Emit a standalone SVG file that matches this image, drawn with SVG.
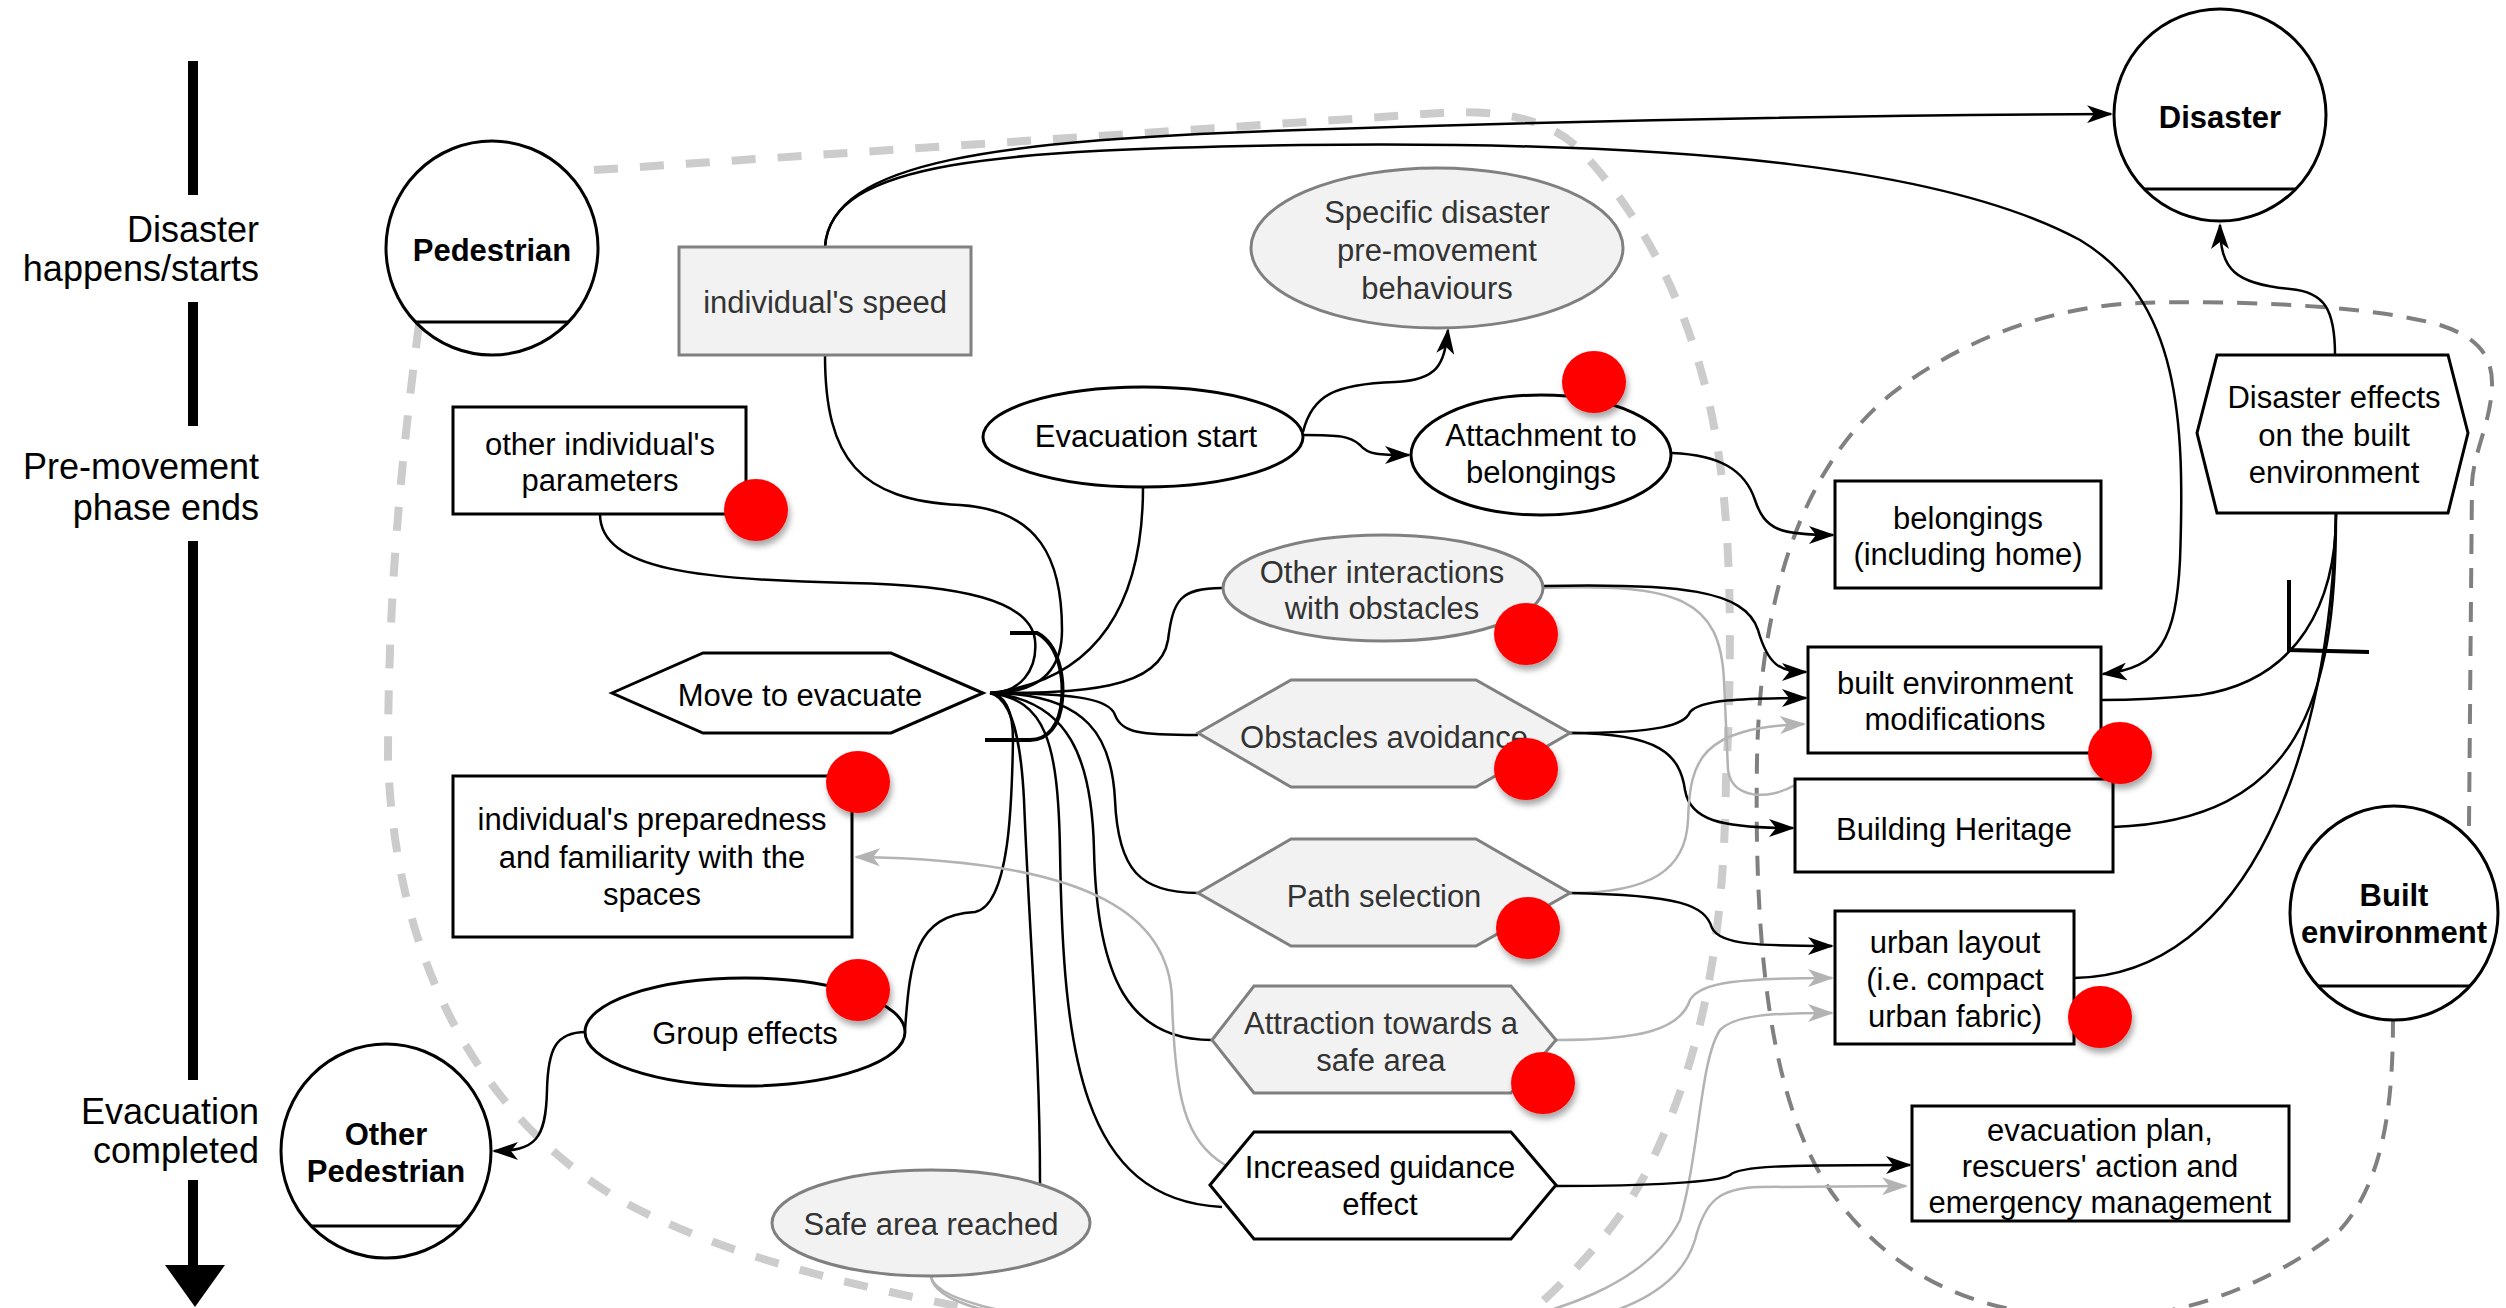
<svg xmlns="http://www.w3.org/2000/svg" width="2506" height="1308" viewBox="0 0 2506 1308">
<defs>
<marker id="ab" markerUnits="userSpaceOnUse" markerWidth="26" markerHeight="18" viewBox="0 0 26 18" refX="24" refY="9" orient="auto"><path d="M0,0 L26,9 L0,18 L7,9 z" fill="#000"/></marker>
<marker id="ag" markerUnits="userSpaceOnUse" markerWidth="26" markerHeight="18" viewBox="0 0 26 18" refX="24" refY="9" orient="auto"><path d="M0,0 L26,9 L0,18 L7,9 z" fill="#b3b3b3"/></marker>
<filter id="sh" x="-40%" y="-40%" width="180%" height="180%"><feDropShadow dx="2" dy="5" stdDeviation="3" flood-color="#000" flood-opacity="0.35"/></filter>
</defs>
<style>
text{font-family:"Liberation Sans",Arial,Helvetica,sans-serif;font-size:31px;fill:#000;text-anchor:middle}
.b{font-weight:bold}
.g{fill:#333}
.lbl{font-size:36px;text-anchor:end}
.n{fill:#fff;stroke:#000;stroke-width:3}
.ng{fill:#f2f2f2;stroke:#808080;stroke-width:3}
.c{fill:none;stroke:#000;stroke-width:2.5}
.cg{fill:none;stroke:#b3b3b3;stroke-width:2.5}
.dot{fill:#ff0000;filter:url(#sh)}
.bar{stroke:#000;stroke-width:10}
</style>
<rect width="2506" height="1308" fill="#fff"/>

<g id="timeline">
<line class="bar" x1="193" y1="61" x2="193" y2="195"/>
<line class="bar" x1="193" y1="302" x2="193" y2="426"/>
<line class="bar" x1="193" y1="541" x2="193" y2="1080"/>
<line class="bar" x1="193" y1="1180" x2="193" y2="1268"/>
<polygon points="165,1265 225,1265 195,1307" fill="#000"/>
<text class="lbl" x="259" y="242">Disaster</text>
<text class="lbl" x="259" y="281">happens/starts</text>
<text class="lbl" x="259" y="479">Pre-movement</text>
<text class="lbl" x="259" y="520">phase ends</text>
<text class="lbl" x="259" y="1124">Evacuation</text>
<text class="lbl" x="259" y="1163">completed</text>
</g>

<g id="regions">
<path d="M594,170 L1440,113 C1490,110 1540,115 1575,145 C1650,220 1700,330 1718,450 C1735,560 1730,700 1726,780 C1724,950 1700,1060 1650,1165 C1620,1225 1580,1270 1500,1340" fill="none" stroke="#cccccc" stroke-width="8" stroke-dasharray="24,22"/>
<path d="M419,324 C400,470 388,600 388,760 C395,950 470,1110 620,1200 C740,1265 880,1290 1000,1315" fill="none" stroke="#cccccc" stroke-width="8" stroke-dasharray="24,22"/>
<path d="M2469,826 L2472,483 C2474,450 2492,420 2492,383 C2492,350 2470,335 2440,325 C2370,305 2230,300 2140,303 C2050,306 1960,340 1890,395 C1800,470 1760,600 1757,760 C1754,950 1770,1100 1830,1190 C1900,1290 2000,1318 2100,1318 C2200,1318 2290,1270 2340,1230 C2385,1180 2393,1100 2393,1019" fill="none" stroke="#808080" stroke-width="4" stroke-dasharray="20,14"/>
</g>

<g id="connectors">
<path class="c" d="M825,247 C830,160 1000,140 1300,130 C1600,120 1900,115 2111,114" marker-end="url(#ab)"/>
<path class="c" d="M825,247 C830,160 1000,150 1300,145 C1700,140 1950,170 2080,240 C2180,300 2185,420 2180,560 C2176,640 2160,668 2103,674" marker-end="url(#ab)"/>
<path class="c" d="M825,355 C825,460 860,500 960,505 C1040,510 1062,560 1062,630 C1062,670 1040,693 990,693"/>
<path class="c" d="M600,514 C600,570 700,580 850,583 C960,585 1030,600 1035,640 C1038,670 1020,693 990,693"/>
<path class="c" d="M1143,487 C1143,600 1100,680 990,693"/>
<path class="c" d="M1303,432 C1312,395 1335,384 1395,382 C1438,380 1444,365 1448,330" marker-end="url(#ab)"/>
<path class="c" d="M1303,435 C1340,435 1350,436 1360,445 C1368,455 1380,455 1409,455" marker-end="url(#ab)"/>
<path class="c" d="M1672,453 C1720,455 1745,470 1755,500 C1765,530 1780,535 1833,535" marker-end="url(#ab)"/>
<path class="c" d="M2335,355 C2335,310 2325,292 2290,289 C2235,284 2220,270 2220,225" marker-end="url(#ab)"/>
<path class="c" d="M2336,514 C2336,600 2300,680 2200,695 C2150,700 2120,700 2101,700"/>
<path class="c" d="M2336,514 C2336,700 2300,820 2113,827"/>
<path class="c" d="M2336,514 C2330,750 2250,975 2074,978"/>
<path d="M2289,580 L2289,650 L2369,652" fill="none" stroke="#000" stroke-width="4"/>
<path class="c" d="M990,693 C1080,693 1160,690 1168,640 C1173,600 1180,588 1222,588"/>
<path class="c" d="M990,693 C1080,693 1110,700 1115,715 C1122,733 1140,735 1198,735"/>
<path class="c" d="M990,693 C1090,693 1112,740 1115,800 C1118,870 1140,893 1198,893"/>
<path class="c" d="M990,693 C1070,700 1092,760 1094,850 C1097,980 1130,1040 1212,1040"/>
<path class="c" d="M990,693 C1045,700 1058,740 1060,850 C1063,1050 1080,1200 1222,1207"/>
<path class="c" d="M990,693 C1012,698 1021,740 1024,800 C1030,950 1040,1050 1040,1184"/>
<path class="c" d="M905,1030 C910,960 915,915 975,912 C1010,905 1012,800 1013,740 C1013,710 1005,695 990,693"/>
<path class="c" d="M586,1032 C555,1032 548,1050 547,1090 C546,1140 535,1151 494,1151" marker-end="url(#ab)"/>
<path d="M1010,633 L1037,633 C1060,645 1064,680 1062,700 C1060,725 1048,740 1030,740 L985,740" fill="none" stroke="#000" stroke-width="4"/>
<path class="cg" d="M1225,1165 C1185,1140 1175,1100 1172,1000 C1170,920 1100,860 856,857" marker-end="url(#ag)"/>
<path class="cg" d="M1543,588 C1680,583 1720,600 1724,680 L1728,770 C1732,800 1770,800 1795,785"/>
<path class="c" d="M1543,586 C1680,583 1745,590 1758,630 C1768,665 1780,672 1806,672" marker-end="url(#ab)"/>
<path class="c" d="M1570,733 C1660,733 1685,725 1690,712 C1700,700 1740,698 1806,698" marker-end="url(#ab)"/>
<path class="c" d="M1570,733 C1660,733 1680,755 1685,790 C1690,820 1720,828 1793,828" marker-end="url(#ab)"/>
<path class="cg" d="M1570,893 C1650,893 1686,870 1688,820 C1690,760 1700,728 1804,724" marker-end="url(#ag)"/>
<path class="c" d="M1570,893 C1680,895 1705,905 1712,928 C1720,945 1760,946 1832,946" marker-end="url(#ab)"/>
<path class="cg" d="M1556,1040 C1640,1040 1680,1030 1690,1000 C1700,982 1740,978 1832,978" marker-end="url(#ag)"/>
<path class="cg" d="M931,1277 C940,1330 1200,1340 1440,1330 C1560,1320 1650,1280 1680,1220 C1700,1150 1700,1060 1720,1030 C1735,1015 1770,1013 1832,1013" marker-end="url(#ag)"/>
<path class="cg" d="M931,1277 C945,1330 1300,1345 1520,1330 C1620,1320 1680,1290 1695,1240 C1705,1200 1720,1188 1760,1187 L1906,1186" marker-end="url(#ag)"/>
<path class="c" d="M1556,1186 C1650,1186 1720,1182 1730,1175 C1740,1166 1780,1165 1910,1165" marker-end="url(#ab)"/>
</g>

<g id="pedestrian">
<ellipse class="n" cx="492" cy="248" rx="106" ry="107"/>
<line x1="416" y1="322" x2="568" y2="322" stroke="#000" stroke-width="3"/>
<text class="b" x="492" y="261">Pedestrian</text>
</g>
<g id="individuals-speed">
<rect class="ng" x="679" y="247" width="292" height="108"/>
<text class="g" x="825" y="313">individual's speed</text>
</g>
<g id="disaster">
<ellipse class="n" cx="2220" cy="115" rx="106" ry="106"/>
<line x1="2144" y1="189" x2="2296" y2="189" stroke="#000" stroke-width="3"/>
<text class="b" x="2220" y="128">Disaster</text>
</g>
<g id="specific-disaster">
<ellipse class="ng" cx="1437" cy="248" rx="186" ry="80"/>
<text class="g" x="1437" y="223">Specific disaster</text>
<text class="g" x="1437" y="261">pre-movement</text>
<text class="g" x="1437" y="299">behaviours</text>
</g>
<g id="evacuation-start">
<ellipse class="n" cx="1143" cy="437" rx="160" ry="50"/>
<text x="1146" y="447">Evacuation start</text>
</g>
<g id="attachment">
<ellipse class="n" cx="1541" cy="455" rx="130" ry="60"/>
<text x="1541" y="446">Attachment to</text>
<text x="1541" y="483">belongings</text>
</g>
<g id="other-individual-parameters">
<rect class="n" x="453" y="407" width="293" height="107"/>
<text x="600" y="455">other individual's</text>
<text x="600" y="491">parameters</text>
</g>
<g id="belongings">
<rect class="n" x="1835" y="481" width="266" height="107"/>
<text x="1968" y="529">belongings</text>
<text x="1968" y="565">(including home)</text>
</g>
<g id="disaster-effects">
<polygon class="n" points="2217,355 2448,355 2468,433 2448,513 2217,513 2197,433"/>
<text x="2334" y="408">Disaster effects</text>
<text x="2334" y="446">on the built</text>
<text x="2334" y="483">environment</text>
</g>
<g id="other-interactions">
<ellipse class="ng" cx="1383" cy="588" rx="160" ry="53"/>
<text class="g" x="1382" y="583">Other interactions</text>
<text class="g" x="1382" y="619">with obstacles</text>
</g>
<g id="move-to-evacuate">
<polygon class="n" points="612,693 703,653 891,653 983,693 891,733 703,733"/>
<text x="800" y="706">Move to evacuate</text>
</g>
<g id="built-env-modifications">
<rect class="n" x="1808" y="647" width="293" height="106"/>
<text x="1955" y="694">built environment</text>
<text x="1955" y="730">modifications</text>
</g>
<g id="obstacles-avoidance">
<polygon class="ng" points="1198,733 1291,680 1476,680 1570,733 1476,787 1291,787"/>
<text class="g" x="1384" y="748">Obstacles avoidance</text>
</g>
<g id="building-heritage">
<rect class="n" x="1795" y="779" width="318" height="93"/>
<text x="1954" y="840">Building Heritage</text>
</g>
<g id="preparedness">
<rect class="n" x="453" y="776" width="399" height="161"/>
<text x="652" y="830">individual's preparedness</text>
<text x="652" y="868">and familiarity with the</text>
<text x="652" y="905">spaces</text>
</g>
<g id="path-selection">
<polygon class="ng" points="1198,893 1291,839 1476,839 1570,893 1476,946 1291,946"/>
<text class="g" x="1384" y="907">Path selection</text>
</g>
<g id="urban-layout">
<rect class="n" x="1835" y="911" width="239" height="133"/>
<text x="1955" y="953">urban layout</text>
<text x="1955" y="990">(i.e. compact</text>
<text x="1955" y="1027">urban fabric)</text>
</g>
<g id="built-environment">
<ellipse class="n" cx="2394" cy="913" rx="104" ry="107"/>
<line x1="2318" y1="986" x2="2470" y2="986" stroke="#000" stroke-width="3"/>
<text class="b" x="2394" y="906">Built</text>
<text class="b" x="2394" y="943">environment</text>
</g>
<g id="group-effects">
<ellipse class="n" cx="745" cy="1032" rx="160" ry="54"/>
<text x="745" y="1044">Group effects</text>
</g>
<g id="attraction">
<polygon class="ng" points="1212,1040 1254,986 1511,986 1556,1040 1511,1093 1254,1093"/>
<text class="g" x="1381" y="1034">Attraction towards a</text>
<text class="g" x="1381" y="1071">safe area</text>
</g>
<g id="other-pedestrian">
<ellipse class="n" cx="386" cy="1151" rx="105" ry="107"/>
<line x1="311" y1="1226" x2="461" y2="1226" stroke="#000" stroke-width="3"/>
<text class="b" x="386" y="1145">Other</text>
<text class="b" x="386" y="1182">Pedestrian</text>
</g>
<g id="evacuation-plan">
<rect class="n" x="1912" y="1106" width="377" height="115"/>
<text x="2100" y="1141">evacuation plan,</text>
<text x="2100" y="1177">rescuers' action and</text>
<text x="2100" y="1213">emergency management</text>
</g>
<g id="increased-guidance">
<polygon class="n" points="1210,1185 1254,1132 1511,1132 1556,1185 1511,1239 1254,1239"/>
<text x="1380" y="1178">Increased guidance</text>
<text x="1380" y="1215">effect</text>
</g>
<g id="safe-area-reached">
<ellipse class="ng" cx="931" cy="1223" rx="159" ry="53"/>
<text class="g" x="931" y="1235">Safe area reached</text>
</g>

<g id="red-dots">
<ellipse class="dot" cx="756" cy="510" rx="32" ry="31"/>
<ellipse class="dot" cx="1594" cy="382" rx="32" ry="31"/>
<ellipse class="dot" cx="1526" cy="634" rx="32" ry="31"/>
<ellipse class="dot" cx="1526" cy="769" rx="32" ry="31"/>
<ellipse class="dot" cx="858" cy="782" rx="32" ry="31"/>
<ellipse class="dot" cx="2120" cy="753" rx="32" ry="31"/>
<ellipse class="dot" cx="1528" cy="928" rx="32" ry="31"/>
<ellipse class="dot" cx="858" cy="990" rx="32" ry="31"/>
<ellipse class="dot" cx="2100" cy="1017" rx="32" ry="31"/>
<ellipse class="dot" cx="1543" cy="1083" rx="32" ry="31"/>
</g>
</svg>
